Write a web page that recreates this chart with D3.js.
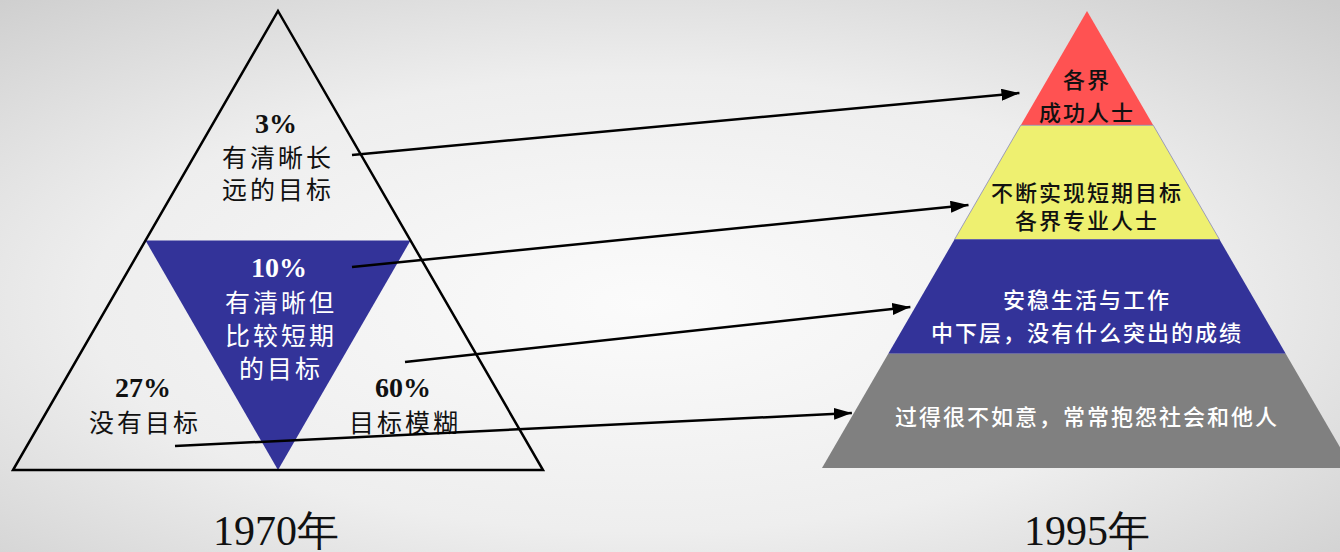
<!DOCTYPE html>
<html>
<head>
<meta charset="utf-8">
<script src="https://cdn.jsdelivr.net/npm/d3@7"></script>
<style>
  html, body { margin: 0; padding: 0; overflow: hidden; }
  svg { display: block; }
</style>
</head>
<body>
<svg id="chart" width="1340" height="552"></svg>
<script>
// The data
const years = ['1970年', '1995年'];
const groupShares = ['3%', '10%', '27%', '60%'];
const groupLabels = [
  ['有清晰长', '远的目标'],
  ['有清晰但', '比较短期', '的目标'],
  ['没有目标'],
  ['目标模糊'],
];
const layerLabels = [
  ['各界', '成功人士'],
  ['不断实现短期目标', '各界专业人士'],
  ['安稳生活与工作', '中下层，没有什么突出的成绩'],
  ['过得很不如意，常常抱怨社会和他人'],
];
const layerColors = ['#ff5252', '#eef070', '#333399', '#808080'];
const layerText = ['#111', '#111', '#fff', '#fff'];
// which pyramid layer each 1970 group ends up in
const links = [0, 1, 2, 3];

const W = 1340, H = 552;
const svg = d3.select('#chart');
const CJK = '"Noto Sans CJK SC", "Noto Sans", sans-serif';
const SERIF = '"Liberation Serif", "DejaVu Serif", serif';

// Background
const defs = svg.append('defs');
const bg = defs.append('radialGradient').attr('id', 'bg')
  .attr('cx', '48%').attr('cy', '55%').attr('r', '75%');
bg.append('stop').attr('offset', '0%').attr('stop-color', '#fbfbfb');
bg.append('stop').attr('offset', '55%').attr('stop-color', '#eeeeee');
bg.append('stop').attr('offset', '100%').attr('stop-color', '#cdcdcd');
svg.append('rect').attr('width', W).attr('height', H).attr('fill', 'url(#bg)');

defs.append('marker').attr('id', 'arrow')
  .attr('viewBox', '0 0 18 12').attr('refX', 18).attr('refY', 6)
  .attr('markerWidth', 18).attr('markerHeight', 12)
  .attr('markerUnits', 'userSpaceOnUse').attr('orient', 'auto')
  .append('path').attr('d', 'M0,0L18,6L0,12Z').attr('fill', '#000');

// Left triangle (1970)
const L = { cx: 278, top: 11, base: 470, half: 265 };
const ly = d3.scaleLinear().domain([0, 1]).range([L.top, L.base]);
const lhalf = d3.scaleLinear().domain([L.top, L.base]).range([0, L.half]);
const midY = ly(0.5);

svg.append('path')
  .attr('d', d3.line()([
    [L.cx - lhalf(midY), midY], [L.cx + lhalf(midY), midY], [L.cx, L.base]
  ]) + 'Z')
  .attr('fill', '#333399');

svg.append('path')
  .attr('d', d3.line()([
    [L.cx, L.top], [L.cx + L.half, L.base], [L.cx - L.half, L.base]
  ]) + 'Z')
  .attr('fill', 'none').attr('stroke', '#000').attr('stroke-width', 2.5)
  .attr('stroke-linejoin', 'miter');

// label anchors for the four groups: [x, y of share line]
const groupPos = [[276, 123], [279, 267], [143, 387], [403, 387]];
const groupColor = ['#111', '#fff', '#111', '#111'];
const lineGap = [32, 33, 33, 33];

groupShares.forEach((s, i) => {
  const [x, y] = groupPos[i];
  const g = svg.append('g').attr('fill', groupColor[i]);
  g.append('text').attr('x', x).attr('y', y)
    .attr('text-anchor', 'middle').attr('dominant-baseline', 'central')
    .style('font-family', SERIF).style('font-weight', 'bold').style('font-size', '28px')
    .text(s);
  g.selectAll('.lbl').data(groupLabels[i]).join('text')
    .attr('x', x + 2).attr('y', (d, j) => y + 1 + lineGap[i] * (j + 1))
    .attr('text-anchor', 'middle').attr('dominant-baseline', 'central')
    .style('font-family', CJK).style('font-size', '25px').style('letter-spacing', '3px')
    .text(d => d);
});

// Right pyramid (1995)
const R = { cx: 1087, top: 11, base: 468, half: 265 };
const ry = d3.scaleLinear().domain([0, layerLabels.length]).range([R.top, R.base]);
const rhalf = d3.scaleLinear().domain([R.top, R.base]).range([0, R.half]);

svg.selectAll('.layer').data(layerLabels).join('path')
  .attr('class', 'layer')
  .attr('d', (d, i) => {
    const y0 = ry(i), y1 = ry(i + 1);
    return d3.line()([
      [R.cx - rhalf(y0), y0], [R.cx + rhalf(y0), y0],
      [R.cx + rhalf(y1), y1], [R.cx - rhalf(y1), y1]
    ]) + 'Z';
  })
  .attr('fill', (d, i) => layerColors[i])
  .attr('stroke', (d, i) => i === 1 ? '#8888bb' : 'none').attr('stroke-width', 0.8);

// text centre of each layer's block
const layerTextY = [[78, 111], [191, 219], [298, 331], [415]];
layerLabels.forEach((lines, i) => {
  svg.append('g').selectAll('text').data(lines).join('text')
    .attr('x', R.cx).attr('y', (d, j) => layerTextY[i][j])
    .attr('text-anchor', 'middle').attr('dominant-baseline', 'central')
    .attr('fill', layerText[i])
    .style('font-family', CJK).style('font-size', '22px').style('font-weight', 500)
    .style('letter-spacing', '2px')
    .text(d => d);
});

// Arrows from each 1970 group to its 1995 layer
const linkStart = [[352, 155], [352, 267], [405, 362], [175, 446]];
const linkTipY = [93, 205, 307, 413];
const linkGap = [20, 6, 5, 2];
svg.selectAll('.link').data(links).join('line')
  .attr('class', 'link')
  .attr('x1', (d, i) => linkStart[i][0]).attr('y1', (d, i) => linkStart[i][1])
  .attr('x2', (d, i) => R.cx - rhalf(linkTipY[d]) - linkGap[d])
  .attr('y2', (d) => linkTipY[d])
  .attr('stroke', '#000').attr('stroke-width', 2.5)
  .attr('marker-end', 'url(#arrow)');

// Year captions
svg.selectAll('.year').data(years).join('text')
  .attr('class', 'year')
  .attr('x', (d, i) => i === 0 ? L.cx - 2 : R.cx)
  .attr('y', 545)
  .attr('text-anchor', 'middle')
  .attr('fill', '#111')
  .style('font-family', SERIF).style('font-size', '42px')
  .text(d => d);
</script>
</body>
</html>
